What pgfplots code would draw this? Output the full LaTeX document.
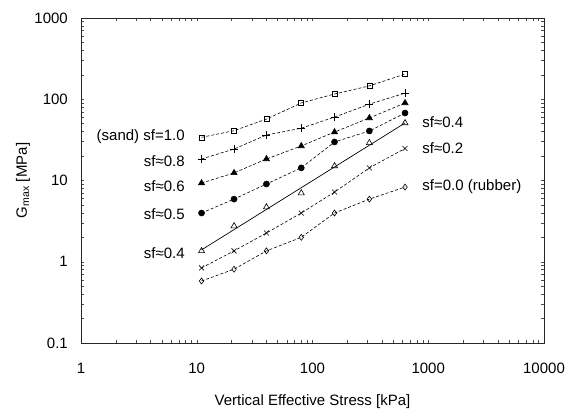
\documentclass[border=0pt]{standalone}
\usepackage{pgfplots}
\pgfplotsset{compat=1.18}
\usepackage{fontspec}
\setmainfont{Liberation Sans}
\begin{document}
\fontsize{15bp}{18bp}\selectfont
\begin{tikzpicture}
\path[use as bounding box] (-81bp,-69bp) rectangle (501bp,343bp);
\begin{axis}[
  scale only axis,
  width=463bp, height=325bp,
  xmode=log, ymode=log,
  xmin=1, xmax=10000, ymin=0.1, ymax=1000,
  xtick={1,10,100,1000,10000},
  xticklabels={1,10,100,1000,10000},
  ytick={0.1,1,10,100,1000},
  yticklabels={0.1,1,10,100,1000},
  minor xtick={}, minor ytick={},
  major tick length=2bp,
  tick align=inside,
  tick style={black!70, line width=0.5pt},
  axis line style={black!85, line width=0.9pt},
  xticklabel style={anchor=center, inner sep=0pt, yshift=-25bp},
  yticklabel style={anchor=east, inner sep=0pt, xshift=-13bp},
  every axis x label/.style={at={(axis description cs:0.5,0)}, yshift=-59bp, anchor=center, inner sep=0pt},
  every axis y label/.style={at={(axis description cs:0,0.5)}, xshift=-58bp, rotate=90, anchor=center, inner sep=0pt},
  xlabel={Vertical Effective Stress [kPa]},
  ylabel={G\textsubscript{max} [MPa]},
  clip=false,
]
% sf=1.0 sand
\addplot[black, line width=0.6pt, dash pattern=on 3bp off 2bp, mark=square, mark size=2.5bp, mark options={solid, line width=0.6pt}]
 coordinates {(11,34) (21,41) (40,57) (80,90) (155,116) (310,146) (630,204)};
% sf=0.8
\addplot[black, line width=0.6pt, dash pattern=on 3bp off 2bp, mark=+, mark size=4bp, mark options={solid, line width=0.6pt}]
 coordinates {(11,18.4) (21,24.4) (40,36.3) (80,44) (155,60.4) (310,87) (630,119)};
% sf=0.6
\addplot[black, line width=0.6pt, dash pattern=on 3bp off 2bp, mark=triangle*, mark size=3.5bp, mark options={solid}]
 coordinates {(11,9.3) (21,12.4) (40,18.4) (80,26.6) (155,39.5) (310,58.8) (630,90)};
% sf=0.5
\addplot[black, line width=0.6pt, dash pattern=on 3bp off 2bp, mark=*, mark size=3bp, mark options={solid}]
 coordinates {(11,3.98) (21,5.9) (40,9.06) (80,14.3) (155,29.8) (310,40.7) (630,67.7)};
% sf=0.4 markers
\addplot[black, only marks, mark=triangle, mark size=3.5bp, mark options={solid, line width=0.6pt}]
 coordinates {(11,1.36) (21,2.75) (40,4.7) (80,7.0) (155,15.1) (310,29) (630,51)};
% sf=0.4 fit line
\addplot[black, line width=0.7pt, no marks]
 coordinates {(11,1.40) (630,51)};
% sf=0.2
\addplot[black, line width=0.6pt, dash pattern=on 3bp off 2bp, mark=x, mark size=3.5bp, mark options={solid, line width=0.6pt}]
 coordinates {(11,0.84) (21,1.36) (40,2.26) (80,3.98) (155,7.2) (310,14.3) (630,24.8)};
% sf=0.0 rubber
\addplot[black, line width=0.6pt, dash pattern=on 3bp off 2bp, mark=diamond, mark size=3bp, mark options={solid, line width=0.6pt}]
 coordinates {(11,0.58) (21,0.81) (40,1.36) (80,2.0) (155,3.98) (310,5.9) (630,8.3)};
% labels
\node[anchor=east, inner sep=0pt] at (axis cs:7.9,34.3) {(sand) sf=1.0};
\node[anchor=east, inner sep=0pt] at (axis cs:7.9,17.4) {sf≈0.8};
\node[anchor=east, inner sep=0pt] at (axis cs:7.9,8.6) {sf≈0.6};
\node[anchor=east, inner sep=0pt] at (axis cs:7.9,3.87) {sf≈0.5};
\node[anchor=east, inner sep=0pt] at (axis cs:7.9,1.28) {sf≈0.4};
\node[anchor=west, inner sep=0pt] at (axis cs:888,52.5) {sf≈0.4};
\node[anchor=west, inner sep=0pt] at (axis cs:888,25) {sf≈0.2};
\node[anchor=west, inner sep=0pt] at (axis cs:888,8.3) {sf=0.0 (rubber)};
\end{axis}
\end{tikzpicture}
\end{document}
